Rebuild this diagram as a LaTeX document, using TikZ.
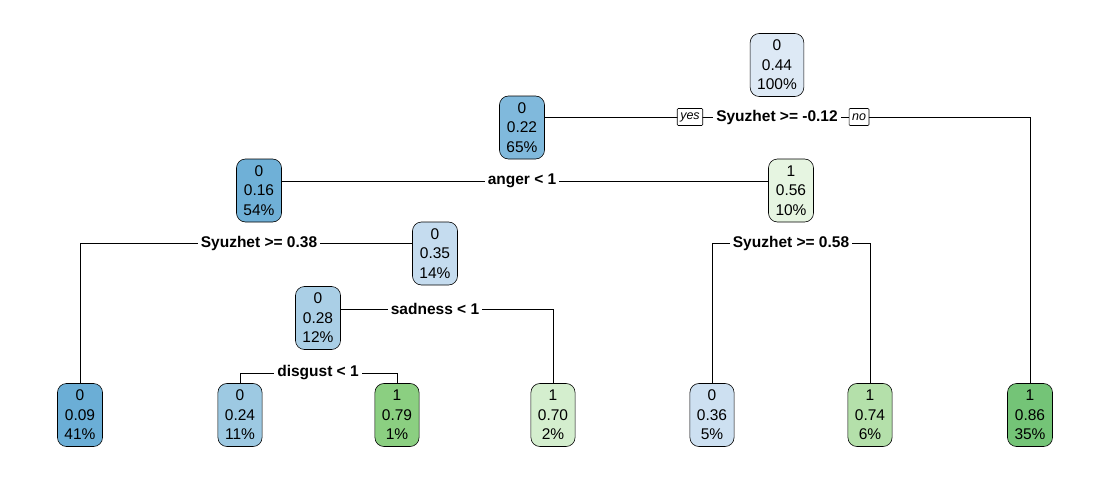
\documentclass[tikz,border=0pt]{standalone}
\usepackage{fontspec}
\setmainfont{Liberation Sans}
\usepackage{xcolor}

\definecolor{b09}{HTML}{6BAED6}
\definecolor{b16}{HTML}{6FB0D7}
\definecolor{b22}{HTML}{80B9DC}
\definecolor{b24}{HTML}{9DC9E2}
\definecolor{b28}{HTML}{AACFE6}
\definecolor{b35}{HTML}{C5DCEF}
\definecolor{b36}{HTML}{CDE0F1}
\definecolor{b44}{HTML}{DDE9F5}
\definecolor{g56}{HTML}{E6F5E1}
\definecolor{g70}{HTML}{D4EECE}
\definecolor{g74}{HTML}{B4E0AA}
\definecolor{g79}{HTML}{8BCF81}
\definecolor{g86}{HTML}{74C477}

\tikzset{
  tnode/.style={draw, line width=0.6pt, rounded corners=9pt, minimum width=44pt,
    minimum height=63pt, inner xsep=7pt, inner ysep=0pt, align=center,
    font=\fontsize{15.5}{19.5}\selectfont},
  splitlab/.style={fill=white, inner xsep=3pt, inner ysep=1pt,
    font=\bfseries\fontsize{15.5}{17}\selectfont},
  yesno/.style={draw, fill=white, line width=0.6pt, rounded corners=1pt,
    inner xsep=3pt, inner ysep=1pt, minimum height=17pt,
    font=\itshape\fontsize{12.5}{13}\selectfont}
}

\begin{document}
\begin{tikzpicture}[x=1pt, y=-1pt, line width=0.8pt]
\useasboundingbox (0,0) rectangle (1110,479);

% inner nodes
\node[tnode, fill=b44] (root) at (777,65) {0\\0.44\\100\%};
\node[tnode, fill=b22] (n65) at (522,127.5) {0\\0.22\\65\%};
\node[tnode, fill=b16] (n54) at (259,190.5) {0\\0.16\\54\%};
\node[tnode, fill=g56] (n10) at (791,190.5) {1\\0.56\\10\%};
\node[tnode, fill=b35] (n14) at (435,253.5) {0\\0.35\\14\%};
\node[tnode, fill=b28] (n12) at (318,318) {0\\0.28\\12\%};

% leaves
\node[tnode, fill=b09] (l41) at (80,415) {0\\0.09\\41\%};
\node[tnode, fill=b24] (l11) at (240,415) {0\\0.24\\11\%};
\node[tnode, fill=g79] (l1) at (397,415) {1\\0.79\\1\%};
\node[tnode, fill=g70] (l2) at (553,415) {1\\0.70\\2\%};
\node[tnode, fill=b36] (l5) at (712,415) {0\\0.36\\5\%};
\node[tnode, fill=g74] (l6) at (870,415) {1\\0.74\\6\%};
\node[tnode, fill=g86] (l35) at (1030,415) {1\\0.86\\35\%};

% split points
\coordinate (s0) at (777,117);
\coordinate (s1) at (522,181);
\coordinate (s2) at (259,243);
\coordinate (s3) at (791,243);
\coordinate (s4) at (435,309);
\coordinate (s5) at (318,373);

% branches
\draw (n65.east |- s0) -| (l35.north);
\draw (n54.east |- s1) -- (n10.west |- s1);
\draw (l41.north) |- (n14.west |- s2);
\draw (l5.north) |- (s3) -| (l6.north);
\draw (n12.east |- s4) -| (l2.north);
\draw (l11.north) |- (s5) -| (l1.north);

% split labels
\node[splitlab] (q0) at (s0) {Syuzhet >= -0.12};
\node[splitlab] (q1) at (s1) {anger < 1};
\node[splitlab] (q2) at (s2) {Syuzhet >= 0.38};
\node[splitlab] (q3) at (s3) {Syuzhet >= 0.58};
\node[splitlab] (q4) at (s4) {sadness < 1};
\node[splitlab] (q5) at (s5) {disgust < 1};
\node[yesno] (yes) at (690,117) {yes};
\node[yesno] (no) at (859,117) {no};
\end{tikzpicture}
\end{document}
